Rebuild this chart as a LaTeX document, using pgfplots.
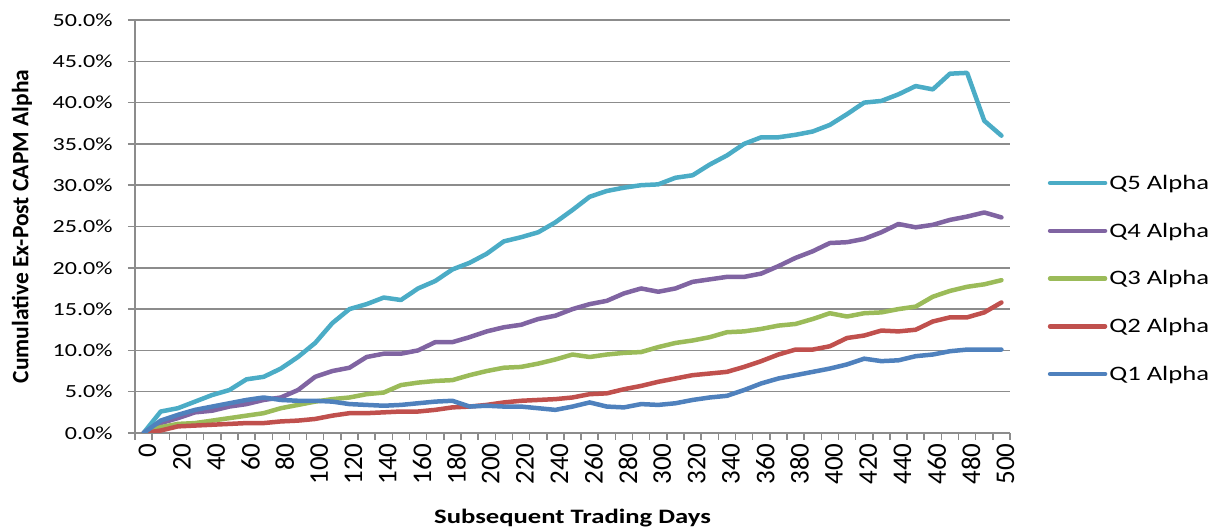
\documentclass[border=0pt]{standalone}
\usepackage{pgfplots}
\usepackage{pgfplotstable}
\pgfplotsset{compat=1.18}
\usepackage{fontspec}
\setmainfont{Carlito}[FakeStretch=1.3]
\newfontfamily\plainfont{Carlito}
\definecolor{cQ5}{HTML}{4BACC6}
\definecolor{cQ4}{HTML}{8064A2}
\definecolor{cQ3}{HTML}{9BBB59}
\definecolor{cQ2}{HTML}{C0504D}
\definecolor{cQ1}{HTML}{4F81BD}
\definecolor{gridc}{HTML}{8C8C8C}
\pgfplotstableread{
day q5 q4 q3 q2 q1
0 0 0 0 0 0
10 2.6 1.2 0.7 0.3 1.5
20 3.0 1.8 1.1 0.8 2.2
30 3.8 2.5 1.2 0.9 2.8
40 4.6 2.7 1.5 1.0 3.2
50 5.2 3.2 1.8 1.1 3.6
60 6.5 3.5 2.1 1.2 4.0
70 6.8 4.0 2.4 1.2 4.3
80 7.8 4.3 3.0 1.4 4.0
90 9.2 5.2 3.4 1.5 3.9
100 10.9 6.8 3.8 1.7 3.9
110 13.3 7.5 4.1 2.1 3.8
120 15.0 7.9 4.3 2.4 3.5
130 15.6 9.2 4.7 2.4 3.4
140 16.4 9.6 4.9 2.5 3.3
150 16.1 9.6 5.8 2.6 3.4
160 17.5 10.0 6.1 2.6 3.6
170 18.4 11.0 6.3 2.8 3.8
180 19.8 11.0 6.4 3.1 3.9
190 20.6 11.6 7.0 3.2 3.2
200 21.7 12.3 7.5 3.4 3.3
210 23.2 12.8 7.9 3.7 3.2
220 23.7 13.1 8.0 3.9 3.2
230 24.3 13.8 8.4 4.0 3.0
240 25.5 14.2 8.9 4.1 2.8
250 27.0 15.0 9.5 4.3 3.2
260 28.6 15.6 9.2 4.7 3.7
270 29.3 16.0 9.5 4.8 3.2
280 29.7 16.9 9.7 5.3 3.1
290 30.0 17.5 9.8 5.7 3.5
300 30.1 17.1 10.4 6.2 3.4
310 30.9 17.5 10.9 6.6 3.6
320 31.2 18.3 11.2 7.0 4.0
330 32.5 18.6 11.6 7.2 4.3
340 33.6 18.9 12.2 7.4 4.5
350 35.0 18.9 12.3 8.0 5.2
360 35.8 19.3 12.6 8.7 6.0
370 35.8 20.2 13.0 9.5 6.6
380 36.1 21.2 13.2 10.1 7.0
390 36.5 22.0 13.8 10.1 7.4
400 37.3 23.0 14.5 10.5 7.8
410 38.6 23.1 14.1 11.5 8.3
420 40.0 23.5 14.5 11.8 9.0
430 40.2 24.3 14.6 12.4 8.7
440 41.0 25.3 15.0 12.3 8.8
450 42.0 24.9 15.3 12.5 9.3
460 41.6 25.2 16.5 13.5 9.5
470 43.5 25.8 17.2 14.0 9.9
480 43.6 26.2 17.7 14.0 10.1
490 37.8 26.7 18.0 14.6 10.1
500 36.0 26.1 18.5 15.8 10.1
}\datatable
\begin{document}
\begin{tikzpicture}
\useasboundingbox (0,0) rectangle (1209pt,529pt);
\begin{axis}[
  at={(135pt,96pt)}, anchor=south west,
  scale only axis, width=875pt, height=413pt,
  xmin=-5, xmax=505, ymin=0, ymax=50,
  axis lines=left, axis line style={-, draw=gridc, line width=1.5pt},
  ymajorgrids, grid style={draw=gridc, line width=1.5pt},
  ytick={0,5,...,50},
  yticklabel={\pgfmathprintnumber[fixed,fixed zerofill,precision=1]{\tick}\%},
  yticklabel style={font=\fontsize{18.5}{20}\selectfont, xshift=-12pt},
  xtick={0,20,...,500},
  major x tick style={draw=none},
  minor xtick={-5,5,...,505},
  tick align=outside,
  tick style={draw=gridc, line width=1.5pt},
  major tick length=7pt, minor tick length=7pt,
  xticklabel style={font=\plainfont\fontsize{27}{27}\selectfont, rotate=90, anchor=east, yshift=-4pt},
  /pgf/number format/assume math mode=true,
  xlabel={\bfseries Subsequent Trading Days},
  ylabel={\plainfont\bfseries Cumulative Ex-Post CAPM Alpha},
  xlabel style={font=\fontsize{20.5}{22}\selectfont, at={(axis description cs:0.5,0)}, anchor=center, yshift=-85pt},
  ylabel style={font=\fontsize{23.5}{25}\selectfont, at={(axis description cs:0,0.5)}, anchor=center, yshift=113pt},
  legend style={draw=none, fill=none, at={(axis description cs:1.043,0.374)}, anchor=west,
    font=\fontsize{20.5}{22}\selectfont, row sep=28pt, inner sep=0pt,
    nodes={inner sep=2pt}},
  legend cell align=left,
  legend image code/.code={\draw[#1, line cap=round] (0pt,0pt) -- (55pt,0pt);},
  every axis plot/.append style={line width=4.5pt, line join=round, line cap=round, mark=none},
]
\addplot[cQ5] table[x=day,y=q5] {\datatable};
\addplot[cQ4] table[x=day,y=q4] {\datatable};
\addplot[cQ3] table[x=day,y=q3] {\datatable};
\addplot[cQ2] table[x=day,y=q2] {\datatable};
\addplot[cQ1] table[x=day,y=q1] {\datatable};
\legend{Q5 Alpha, Q4 Alpha, Q3 Alpha, Q2 Alpha, Q1 Alpha}
\end{axis}
\end{tikzpicture}
\end{document}
